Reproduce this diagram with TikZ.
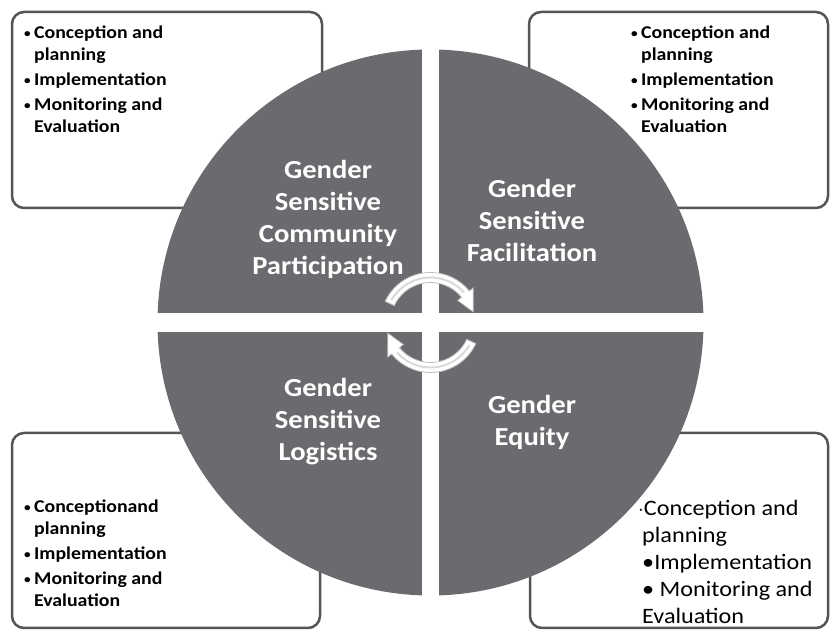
\documentclass[tikz,border=0pt]{standalone}
\usepackage{fontspec}
\setmainfont{Carlito}[FakeStretch=1.1]
\usetikzlibrary{calc}
\definecolor{quadgray}{HTML}{6B6A6E}
\definecolor{boxgray}{HTML}{555555}
\newcommand{\bul}{\makebox[10pt][l]{\raisebox{1.5pt}{\fontsize{12}{12}\selectfont\textbullet}}}
\newcommand{\ind}{\hspace*{10pt}}
\begin{document}
\begin{tikzpicture}[x=1pt,y=1pt,
    panel/.style={draw=boxgray,line width=2.5pt,rounded corners=12pt},
    quadtext/.style={align=center,text=white,inner sep=0,font=\bfseries\fontsize{26}{32}\selectfont},
    listtext/.style={align=left,anchor=north west,inner sep=0,font=\bfseries\fontsize{18}{22}\selectfont}]
    \newcommand{\RAD}{273}
    \newcommand{\GX}{8.5}
    \newcommand{\GY}{9.5}
    \useasboundingbox(0,0)rectangle(830,631);
    \fill[white](0,0)rectangle(830,631);
    % outer boxes
    \draw[panel](12,423)rectangle(322,619);
    \draw[panel](529,423)rectangle(828,619);
    \draw[panel](12,3)rectangle(320,198);
    \draw[panel](530,3)rectangle(828,198);
    \node[listtext](tlist)at(24,605){\bul Conception and\\\ind planning\\[3pt]\bul Implementation\\[3pt]\bul Monitoring and\\\ind Evaluation};
    \node[listtext](trlist)at(631,605){\bul Conception and\\\ind planning\\[3pt]\bul Implementation\\[3pt]\bul Monitoring and\\\ind Evaluation};
    \node[listtext](bllist)at(24,131){\bul Conceptionand\\\ind planning\\[3pt]\bul Implementation\\[3pt]\bul Monitoring and\\\ind Evaluation};
    \node[listtext,font=\fontsize{22}{27}\selectfont](brlist)at(638,131){$\cdot$Conception and\\\hspace*{4pt}planning\\\hspace*{4pt}\textbullet Implementation\\\hspace*{4pt}\textbullet{} Monitoring and\\\hspace*{4pt}Evaluation};
    % circle in four quadrants
    \coordinate(C)at(430.5,308.5);
    \begin{scope}
        \clip(C)circle(\RAD);
        \fill[quadgray]($(C)+(-\GX,\GY)$)rectangle++(-300,300);
        \fill[quadgray]($(C)+(\GX,\GY)$)rectangle++(300,300);
        \fill[quadgray]($(C)+(-\GX,-\GY)$)rectangle++(-300,-300);
        \fill[quadgray]($(C)+(\GX,-\GY)$)rectangle++(300,-300);
    \end{scope}
    \node[quadtext](partic)at(328,411.6){Gender\\Sensitive\\Community\\Participation};
    \node[quadtext](facil)at(532,411){Gender\\Sensitive\\Facilitation};
    \node[quadtext](logis)at(328,209.3){Gender\\Sensitive\\Logistics};
    \node[quadtext](equity)at(532,208.5){Gender\\Equity};
    % cycle arrows
    \fill[white,draw=gray!50,line width=.8pt]($(C)+(155:50)$)arc[start angle=155,end angle=39,radius=50]--($(C)+(39:55)$)--($(C)+(14:44)$)--($(C)+(39:35)$)--($(C)+(39:40)$)arc[start angle=39,end angle=155,radius=40]--cycle;
    \draw[gray!30,line width=2pt]($(C)+(150:45)$)arc[start angle=150,end angle=42,radius=45];
    \fill[white,draw=gray!50,line width=.8pt]($(C)+(-25:50)$)arc[start angle=-25,end angle=-141,radius=50]--($(C)+(-141:55)$)--($(C)+(-166:44)$)--($(C)+(-141:35)$)--($(C)+(-141:40)$)arc[start angle=-141,end angle=-25,radius=40]--cycle;
    \draw[gray!30,line width=2pt]($(C)+(-30:45)$)arc[start angle=-30,end angle=-138,radius=45];
\end{tikzpicture}
\end{document}
